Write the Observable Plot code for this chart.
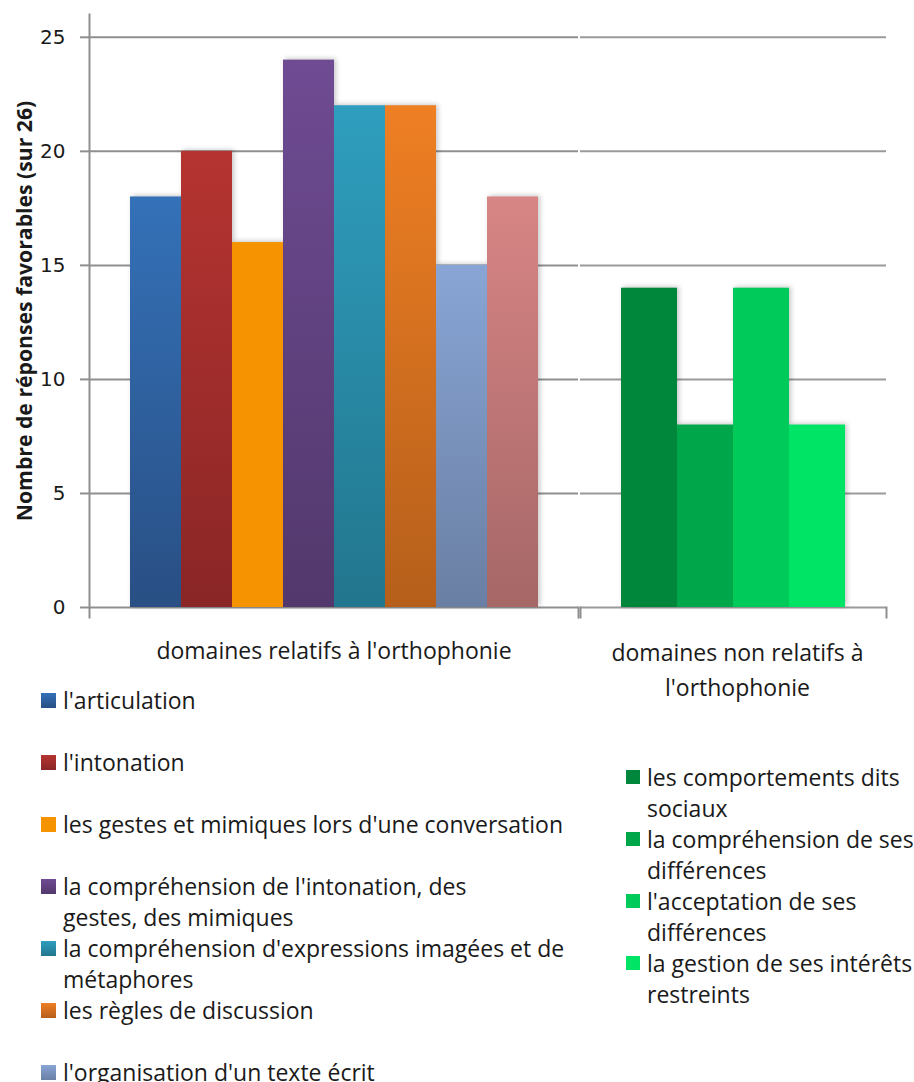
<!DOCTYPE html>
<html>
<head>
<meta charset="utf-8">
<script src="https://cdn.jsdelivr.net/npm/d3@7"></script>
<script src="https://cdn.jsdelivr.net/npm/@observablehq/plot@0.6"></script>
<style>
  html, body { margin: 0; padding: 0; background: #fff; overflow: hidden; }
  #wrap { position: relative; width: 914px; height: 1082px; overflow: hidden; background: #fff; font-family: "Open Sans", Lato, sans-serif; color: #1a1a1a; }
  #left { position: absolute; left: 0; top: 0; }
  #right { position: absolute; left: 578px; top: 0; }
  #ylabel { position: absolute; left: 23px; top: 311px; transform: translate(-50%, -50%) rotate(-90deg); white-space: nowrap; font-weight: bold; font-size: 21.2px; }
  .leg { position: absolute; font-size: 23px; }
  .leg .item { display: flex; align-items: flex-start; }
  .leg .sw { width: 15px; height: 15px; flex: none; margin-top: 8px; }
  .leg .tx { line-height: 31px; white-space: pre; }
  #legL { left: 41px; top: 685px; }
  #legL .item { height: 62px; }
  #legL .sw { margin-right: 7px; }
  #legR { left: 626px; top: 762px; }
  #legR .item { height: 62px; }
  #legR .sw { width: 14px; height: 14px; margin-right: 7px; }
</style>
</head>
<body>
<div id="wrap">
  <div id="ylabel"></div>
  <div id="left"></div>
  <div id="right"></div>
  <div id="legL" class="leg"></div>
  <div id="legR" class="leg"></div>
</div>
<script>
// ---- data ----
const yLabel = "Nombre de réponses favorables (sur 26)";
const groupLeft = ["domaines relatifs à l'orthophonie"];
const groupRight = ["domaines non relatifs à\nl'orthophonie"];

const seriesLeft = [
  "l'articulation",
  "l'intonation",
  "les gestes et mimiques lors d'une conversation",
  "la compréhension de l'intonation, des gestes, des mimiques",
  "la compréhension d'expressions imagées et de métaphores",
  "les règles de discussion",
  "l'organisation d'un texte écrit",
  "série 8"
];
const valuesLeft = [18, 20, 16, 24, 22, 22, 15, 18];
const legendLeft = [
  "l'articulation",
  "l'intonation",
  "les gestes et mimiques lors d'une conversation",
  "la compréhension de l'intonation, des\ngestes, des mimiques",
  "la compréhension d'expressions imagées et de\nmétaphores",
  "les règles de discussion",
  "l'organisation d'un texte écrit"
];
const colorsLeftTop = ["#3471b8", "#b53431", "#f59300", "#6f4b93", "#2f9ebe", "#ef7f23", "#88a5d5", "#d88585"];
const colorsLeftBottom = ["#294f84", "#8a2626", "#f59300", "#52386c", "#22768d", "#b55f1b", "#6a7fa3", "#a66767"];

const seriesRight = [
  "les comportements dits sociaux",
  "la compréhension de ses différences",
  "l'acceptation de ses différences",
  "la gestion de ses intérêts restreints"
];
const valuesRight = [14, 8, 14, 8];
const legendRight = [
  "les comportements dits\nsociaux",
  "la compréhension de ses\ndifférences",
  "l'acceptation de ses\ndifférences",
  "la gestion de ses intérêts\nrestreints"
];
const colorsRight = ["#00873b", "#00a64a", "#00cb5a", "#00e466"];

const yTicks = [0, 5, 10, 15, 20, 25];
const yDomain = [0, 26];

// ---- tables ----
const dataLeft = seriesLeft.map((s, i) => ({name: s, value: valuesLeft[i], fill: `url(#gL${i})`}));
const dataRight = seriesRight.map((s, i) => ({name: s, value: valuesRight[i], fill: colorsRight[i]}));

const grid = "#8f8f8f";
const common = {
  height: 700,
  marginTop: 14,
  marginBottom: 93,
  color: {type: "identity"},
  style: {fontFamily: "'Open Sans', Lato, sans-serif", fontSize: "23px", color: "#1a1a1a", background: "transparent", overflow: "visible"}
};

const left = Plot.plot({
  ...common,
  width: 580,
  marginLeft: 89,
  marginRight: 2,
  x: {domain: seriesLeft, paddingInner: 0, paddingOuter: 0.75, axis: null},
  y: {domain: yDomain, axis: null},
  marks: [
    Plot.ruleY(yTicks, {stroke: grid, strokeWidth: 2}),
    Plot.frame({anchor: "left", stroke: grid, strokeWidth: 2, insetBottom: -10}),
    Plot.frame({anchor: "right", stroke: grid, strokeWidth: 2, insetTop: 593, insetBottom: -10}),
    Plot.axisY(yTicks, {tickSize: 9, tickPadding: 15, stroke: grid, strokeWidth: 2, fill: "#1a1a1a", fontSize: 20, fontFamily: "DejaVu Sans", label: null}),
    Plot.barY(dataLeft, {x: "name", y: "value", fill: "fill"}),
    Plot.text(groupLeft, {text: d => d, frameAnchor: "bottom", lineAnchor: "top", dy: 35, fontSize: 23, fill: "#1a1a1a"})
  ]
});

const right = Plot.plot({
  ...common,
  width: 334,
  marginLeft: 2,
  marginRight: 26,
  x: {domain: seriesRight, paddingInner: 0, paddingOuter: 0.73, axis: null},
  y: {domain: yDomain, axis: null},
  marks: [
    Plot.ruleY(yTicks, {stroke: "#9a9a9a", strokeWidth: 2}),
    Plot.frame({anchor: "left", stroke: grid, strokeWidth: 2, insetTop: 593, insetBottom: -10}),
    Plot.frame({anchor: "right", stroke: grid, strokeWidth: 2, insetTop: 593, insetBottom: -10}),
    Plot.barY(dataRight, {x: "name", y: "value", fill: "fill"}),
    Plot.text(groupRight, {text: d => d, frameAnchor: "bottom", lineAnchor: "top", dy: 29, lineHeight: 1.52, fontSize: 23, fill: "#1a1a1a", dx: 4})
  ]
});

// gradients
const defs = d3.select(left).insert("defs", ":first-child");
colorsLeftTop.forEach((c, i) => {
  const g = defs.append("linearGradient").attr("id", `gL${i}`).attr("x1", 0).attr("y1", 0).attr("x2", 0).attr("y2", 1);
  g.append("stop").attr("offset", "0%").attr("stop-color", c);
  g.append("stop").attr("offset", "100%").attr("stop-color", colorsLeftBottom[i]);
});

[left, right].forEach(svg => {
  d3.select(svg).selectAll('g[aria-label="bar"]').style("filter", "drop-shadow(2px -1px 2.5px rgba(0,0,0,0.22))");
});

document.getElementById("left").appendChild(left);
document.getElementById("right").appendChild(right);
document.getElementById("ylabel").textContent = yLabel;

// legends
const legL = d3.select("#legL");
legendLeft.forEach((t, i) => {
  const it = legL.append("div").attr("class", "item");
  it.append("div").attr("class", "sw").style("background", `linear-gradient(to bottom, ${colorsLeftTop[i]}, ${colorsLeftBottom[i]})`);
  it.append("div").attr("class", "tx").text(t);
});
const legR = d3.select("#legR");
legendRight.forEach((t, i) => {
  const it = legR.append("div").attr("class", "item");
  it.append("div").attr("class", "sw").style("background", colorsRight[i]);
  it.append("div").attr("class", "tx").text(t);
});
</script>
</body>
</html>
